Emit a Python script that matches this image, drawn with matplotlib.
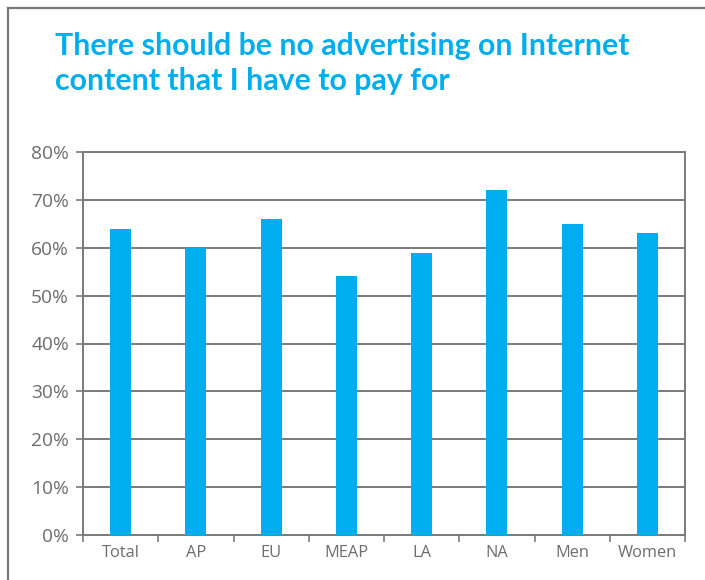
import matplotlib
matplotlib.use("Agg")
import matplotlib.pyplot as plt
from matplotlib.lines import Line2D
from matplotlib.ticker import FuncFormatter, MultipleLocator, FixedLocator

categories = ["Total", "AP", "EU", "MEAP", "LA", "NA", "Men", "Women"]
values = [64, 60, 66, 54, 59, 72, 65, 63]
title = "There should be no advertising on Internet\ncontent that I have to pay for"

bar_color = "#00AEEF"
grid_color = "#7a7a7a"
text_gray = "#6d6d6d"

W, H = 705, 580
fig = plt.figure(figsize=(W / 100, H / 100), dpi=100)
fig.patch.set_facecolor("white")

# frame around the panel (top and left edges only)
fig.add_artist(Line2D([7.5 / W, 7.5 / W], [0, 1 - 8 / H], transform=fig.transFigure,
                      color="#777777", lw=1.6))
fig.add_artist(Line2D([7.5 / W, 1], [1 - 8 / H, 1 - 8 / H], transform=fig.transFigure,
                      color="#777777", lw=1.6))

fig.text(55 / W, 1 - 32 / H, title, color=bar_color, fontsize=21.8, fontweight="bold",
         family="Lato", va="top", ha="left", linespacing=1.3)

x0, x1 = 83, 685
y_top, y_bot = 152, 535
ax = fig.add_axes([x0 / W, 1 - y_bot / H, (x1 - x0) / W, (y_bot - y_top) / H])

xs = list(range(len(categories)))
ax.bar(xs, values, width=0.28, color=bar_color, zorder=3)

ax.set_xlim(-0.5, len(categories) - 0.5)
ax.set_ylim(0, 80)
ax.yaxis.set_major_locator(MultipleLocator(10))
ax.yaxis.set_major_formatter(FuncFormatter(lambda v, p: f"{int(v)}%"))
ax.grid(axis="y", color=grid_color, lw=1.4, zorder=0)

ax.set_xticks(xs)
ax.set_xticklabels(categories)
ax.xaxis.set_minor_locator(FixedLocator([i - 0.5 for i in range(len(categories) + 1)]))
ax.tick_params(axis="x", which="major", length=0, pad=7, labelsize=11.8, labelcolor=text_gray)
ax.tick_params(axis="x", which="minor", length=5, width=1.2, color=grid_color)
ax.tick_params(axis="y", length=5, width=1.2, color=grid_color, pad=5,
               labelsize=13.8, labelcolor=text_gray)
for lab in ax.get_xticklabels() + ax.get_yticklabels():
    lab.set_family("Open Sans")

for s in ax.spines.values():
    s.set_color(grid_color)
    s.set_linewidth(1.4)

fig.savefig("out.png", dpi=100, facecolor="white")
